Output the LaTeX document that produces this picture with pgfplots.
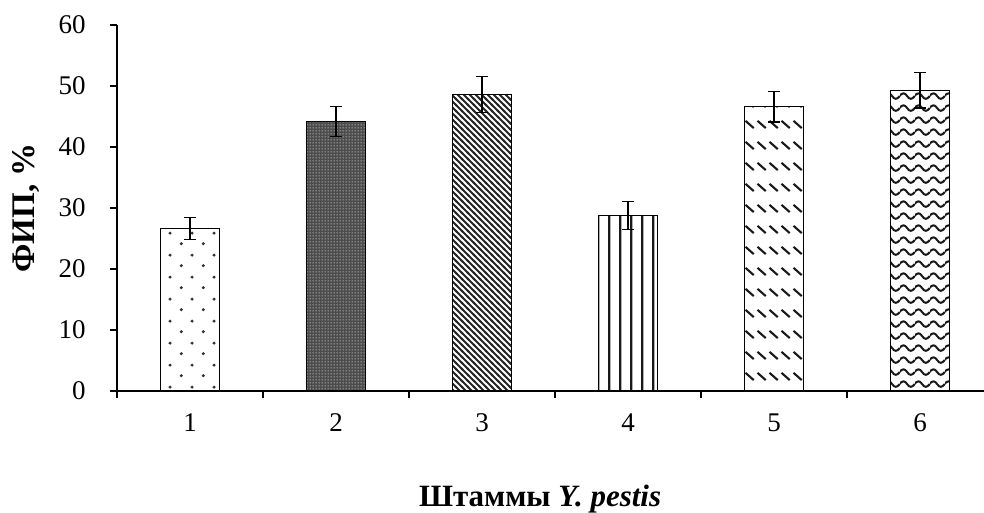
\documentclass[border=0pt]{standalone}
\usepackage{pgfplots}
\pgfplotsset{compat=1.18}
\usepackage{fontspec}
\setmainfont{Liberation Serif}
\usetikzlibrary{patterns}

\pgfdeclarepatternformonly{sdots}{\pgfqpoint{0pt}{0pt}}{\pgfqpoint{11pt}{11pt}}{\pgfqpoint{11pt}{11pt}}{%
  \pgfpathcircle{\pgfqpoint{2.75pt}{2.75pt}}{0.85pt}%
  \pgfpathcircle{\pgfqpoint{8.25pt}{8.25pt}}{0.85pt}%
  \pgfusepath{fill}}
\pgfdeclarepatternformonly{wdots}{\pgfqpoint{0pt}{0pt}}{\pgfqpoint{1.5pt}{1.5pt}}{\pgfqpoint{1.5pt}{1.5pt}}{%
  \pgfpathcircle{\pgfqpoint{0.75pt}{0.75pt}}{0.38pt}%
  \pgfusepath{fill}}
\pgfdeclarepatternformonly{nwlines}{\pgfqpoint{-1pt}{-1pt}}{\pgfqpoint{4pt}{4pt}}{\pgfqpoint{3pt}{3pt}}{%
  \pgfsetlinewidth{0.9pt}%
  \pgfpathmoveto{\pgfqpoint{-0.5pt}{3.5pt}}\pgfpathlineto{\pgfqpoint{3.5pt}{-0.5pt}}%
  \pgfusepath{stroke}}
\pgfdeclarepatternformonly{vlines}{\pgfqpoint{0pt}{0pt}}{\pgfqpoint{5.6pt}{40pt}}{\pgfqpoint{5.6pt}{40pt}}{%
  \pgfpathrectangle{\pgfqpoint{2.2pt}{0pt}}{\pgfqpoint{1.2pt}{40pt}}%
  \pgfusepath{fill}}
\pgfdeclarepatternformonly{dashdiag}{\pgfqpoint{0pt}{0pt}}{\pgfqpoint{6pt}{10.5pt}}{\pgfqpoint{6pt}{10.5pt}}{%
  \pgfsetlinewidth{1.1pt}%
  \pgfpathmoveto{\pgfqpoint{0.8pt}{7.4pt}}\pgfpathlineto{\pgfqpoint{5.2pt}{3.6pt}}%
  \pgfusepath{stroke}}
\pgfdeclarepatternformonly{waves}{\pgfqpoint{0pt}{0pt}}{\pgfqpoint{7.5pt}{6.2pt}}{\pgfqpoint{7.5pt}{6.2pt}}{%
  \pgfsetlinewidth{1.05pt}%
  \pgfpathmoveto{\pgfqpoint{-0.3pt}{3.1pt}}%
  \pgfpathcurveto{\pgfqpoint{1.25pt}{5pt}}{\pgfqpoint{2.5pt}{5pt}}{\pgfqpoint{3.75pt}{3.1pt}}%
  \pgfpathcurveto{\pgfqpoint{5pt}{1.2pt}}{\pgfqpoint{6.25pt}{1.2pt}}{\pgfqpoint{7.8pt}{3.1pt}}%
  \pgfusepath{stroke}}

\begin{document}
\begin{tikzpicture}
\begin{axis}[
  at={(58.5pt,61pt)}, anchor=south west,
  scale only axis, width=433.5pt, height=183pt,
  xmin=0.5, xmax=6.438, ymin=0, ymax=60,
  axis x line*=bottom, axis y line*=left,
  axis line style={line width=0.6pt},
  tick align=outside,
  ytick={0,10,...,60},
  major tick length=3.5pt,
  tick style={line width=0.6pt, black},
  xtick={0.5,1.5,...,5.5}, xticklabels={},
  extra x ticks={1,2,3,4,5,6},
  extra x tick style={major tick length=0pt},
  /pgf/number format/assume math mode=true,
  tick label style={font=\fontsize{13.5}{15}\selectfont},
  yticklabel style={anchor=east, inner sep=0pt, xshift=-12pt},
  xticklabel style={anchor=base, inner sep=0pt, yshift=-20.5pt},
  ylabel={\bfseries ФИП, \%},
  xlabel={\bfseries Штаммы \textit{Y. pestis}},
  label style={font=\fontsize{15.5}{18}\selectfont},
  ylabel style={at={(axis description cs:-0.0946,0.5)}, anchor=base, font=\fontsize{16.5}{18}\selectfont},
  xlabel style={at={(axis description cs:0.488,-0.3169)}, anchor=base},
  bar width=0.4,
  every axis plot/.append style={ybar, bar shift=0pt, draw=black, line width=0.6pt,
     error bars/y dir=both, error bars/y explicit,
     error bars/error bar style={line width=0.6pt, black},
     error bars/error mark options={rotate=90, mark size=3pt, line width=0.6pt, black}},
  clip=false,
]
\addplot[pattern=sdots, pattern color=black!80] coordinates {(1,26.7) +- (0,1.8)};
\addplot[fill=black!70, postaction={pattern=wdots, pattern color=white!88!black}] coordinates {(2,44.2) +- (0,2.5)};
\addplot[pattern=nwlines, pattern color=black!85] coordinates {(3,48.6) +- (0,2.9)};
\addplot[pattern=vlines, pattern color=black!90] coordinates {(4,28.8) +- (0,2.3)};
\addplot[pattern=dashdiag, pattern color=black!90] coordinates {(5,46.6) +- (0,2.5)};
\addplot[pattern=waves, pattern color=black!90] coordinates {(6,49.3) +- (0,2.9)};
\end{axis}
\pgfresetboundingbox
\useasboundingbox (0,0) rectangle (492pt,256.5pt);
\end{tikzpicture}
\end{document}
